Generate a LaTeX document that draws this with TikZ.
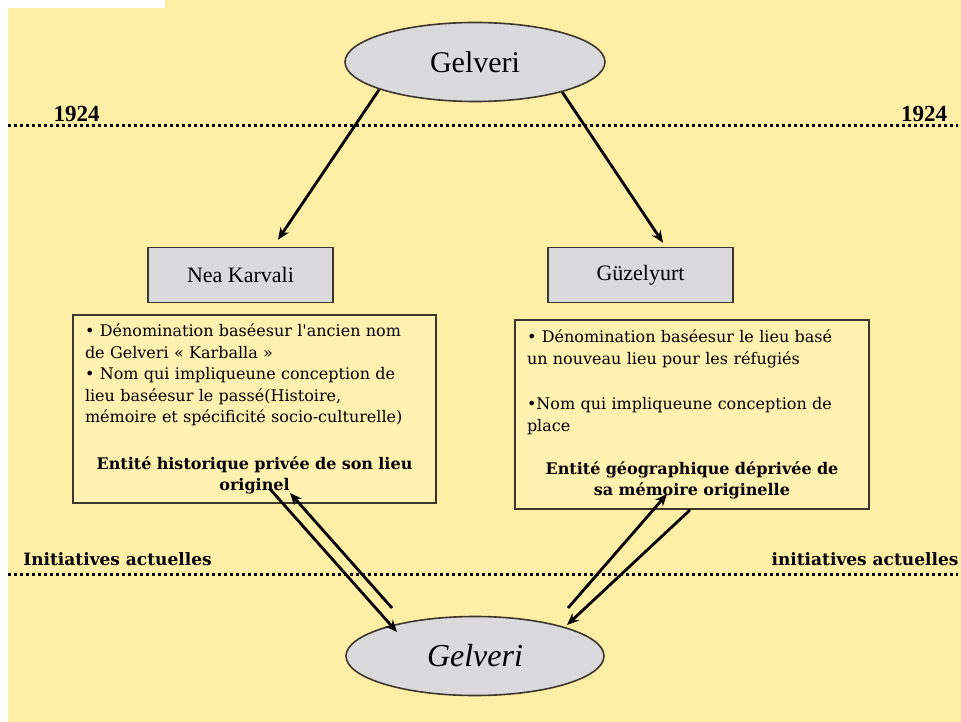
\documentclass[tikz,border=0pt]{standalone}
\usepackage{fontspec}
\setmainfont{Liberation Serif}
\newfontfamily\notefont{DejaVu Serif}
\usetikzlibrary{shapes.geometric, positioning, arrows.meta}

\definecolor{paper}{RGB}{255,239,166}
\definecolor{notefill}{RGB}{255,241,176}
\definecolor{placegray}{RGB}{218,218,220}
\definecolor{edgegray}{RGB}{60,55,45}

\tikzset{
  place/.style={ellipse, draw=edgegray, line width=1.6pt, fill=placegray,
    minimum width=260pt, minimum height=79pt},
  namebox/.style={rectangle, draw=edgegray, line width=1.6pt, fill=placegray,
    minimum width=185pt, minimum height=55pt, font=\fontsize{22}{25}\selectfont},
  notebox/.style={rectangle, draw=edgegray, line width=2pt, fill=notefill,
    inner xsep=12pt, minimum height=188pt, font=\notefont\fontsize{16}{21.5}\selectfont},
  era/.style={dash pattern=on 3pt off 3pt, line width=3pt},
  eralabel/.style={anchor=base, inner sep=0pt},
  link/.style={-{Stealth[length=12pt, width=10pt]}, line width=2.8pt},
}

\begin{document}
\begin{tikzpicture}[x=1pt, y=-1pt, on grid]
  \useasboundingbox (0,0) rectangle (961,722);
  \fill[paper] (8,0) rectangle (961,722);
  \fill[white] (8,0) rectangle (165,8);

  % time lines
  \coordinate (old-w) at (8,126);
  \coordinate (old-e) at (958,126);
  \coordinate (now-w) at (8,574);
  \coordinate (now-e) at (958,574);
  \draw[era] (old-w) -- (old-e);
  \draw[era] (now-w) -- (now-e);
  \node[eralabel, font=\bfseries\fontsize{23}{26}\selectfont] (year-w) at (76.5,122) {1924};
  \node[eralabel, font=\bfseries\fontsize{23}{26}\selectfont] (year-e) at (924,122) {1924};
  \node[eralabel, font=\notefont\bfseries\fontsize{17}{20}\selectfont] (now-label-w) at (117.5,565) {Initiatives actuelles};
  \node[eralabel, font=\notefont\bfseries\fontsize{17}{20}\selectfont] (now-label-e) at (865,565) {initiatives actuelles};

  % places
  \node[place, font=\fontsize{30}{34}\selectfont] (gelveri-old) at (475,62) {Gelveri};
  \node[namebox] (nea) [below left=213pt and 234.5pt of gelveri-old] {Nea Karvali};
  \node[namebox] (guz) [right=400pt of nea] {Güzelyurt};
  \node[notebox, text width=339pt] (nea-note) [below right=134pt and 14pt of nea] {%
    \raggedright
    • Dénomination baséesur l'ancien nom\\
    de Gelveri « Karballa »\\
    • Nom qui impliqueune conception de\\
    lieu baséesur le passé(Histoire,\\
    mémoire et spécificité socio-culturelle)\par
    \vspace{25pt}
    {\centering\bfseries Entité historique privée de son lieu\\ originel\par}};
  \node[notebox, text width=330pt, minimum height=189pt] (guz-note) [below right=139.5pt and 51.5pt of guz] {%
    \raggedright
    • Dénomination baséesur le lieu basé\\
    un nouveau lieu pour les réfugiés\\[24pt]
    •Nom qui impliqueune conception de\\
    place\par
    \vspace{21.5pt}
    {\centering\bfseries Entité géographique déprivée de\\ sa mémoire originelle\par}};
  \node[place, minimum width=258pt, font=\itshape\fontsize{32}{36}\selectfont] (gelveri-new) [below=594pt of gelveri-old] {Gelveri};

  \draw[link] (gelveri-old.196) -- ([shift={(37.5,-7)}]nea.north);
  \draw[link] (gelveri-old.341) -- ([shift={(22.5,-4)}]guz.north);
  \draw[link] ([shift={(15.5,-15)}]nea-note.south) -- ([shift={(-78,-24)}]gelveri-new.center);
  \draw[link] ([shift={(-83,-48)}]gelveri-new.center) -- ([shift={(35.5,-11)}]nea-note.south);
  \draw[link] ([shift={(93,-48)}]gelveri-new.center) -- ([shift={(-25,-16)}]guz-note.south);
  \draw[link] ([shift={(-2,0)}]guz-note.south) -- ([shift={(92,-31)}]gelveri-new.center);
\end{tikzpicture}
\end{document}
